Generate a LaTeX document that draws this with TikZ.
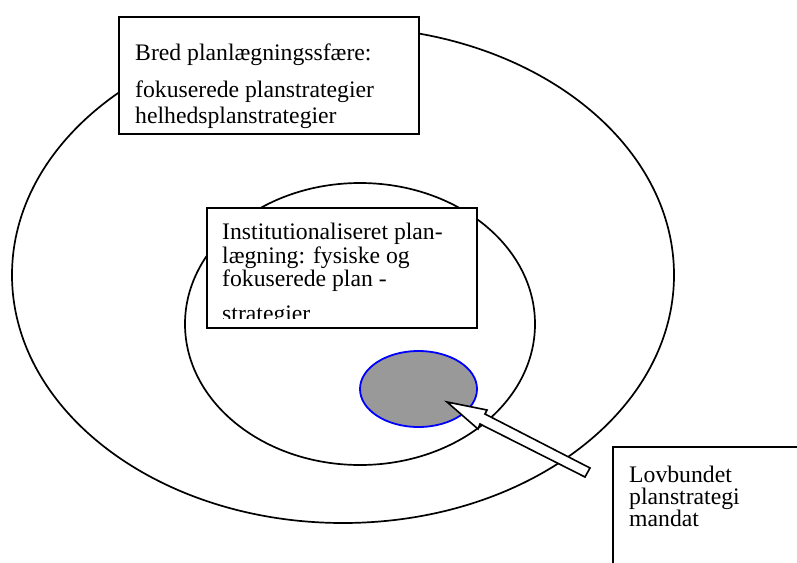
\documentclass[tikz,border=0pt]{standalone}
\usepackage{fontspec}
\setmainfont{Liberation Serif}
\usetikzlibrary{shapes.geometric}
\definecolor{coregray}{RGB}{153,153,153}
\begin{document}
\begin{tikzpicture}[x=1pt,y=-1pt,
  ring/.style={draw=black, line width=1.7pt, ellipse, inner sep=0pt},
  box/.style={draw=black, fill=white, line width=1.7pt, rectangle, inner sep=0pt, anchor=north west},
  txt/.style={anchor=base west, inner sep=0pt, font=\fontsize{23.7}{23.7}\selectfont},
  core/.style={draw=blue, fill=coregray, line width=1.8pt, ellipse, inner sep=0pt},
  blockarrow/.style={draw=black, fill=white, line width=1.6pt, line join=miter}]
\useasboundingbox (0,0) rectangle (797,562);
\clip (0,0) rectangle (797,562);
\fill[white] (0,0) rectangle (797,562);
% outer sphere
\node[ring, minimum width=662pt, minimum height=496pt] (outer) at (343,275) {};
% box 1
\node[box, minimum width=300pt, minimum height=117pt] (b1) at (118,16) {};
\node[txt] (t1a) at (135,60) {Bred planlægningssfære:};
\node[txt] (t1b) at (135,97.5) {fokuserede planstrategier};
\node[txt] (t1c) at (135,123) {helhedsplanstrategier};
% inner sphere
\node[ring, minimum width=350pt, minimum height=282pt] (inner) at (360,324) {};
% box 2 (text clipped inside the box)
\node[box, minimum width=270pt, minimum height=120pt] (b2) at (206,207) {};
\begin{scope}
\clip (b2.north west) rectangle (476,318);
\node[txt] (t2a) at (222,239.5) {Institutionaliseret plan-};
\node[txt] (t2b) at (222,263) {lægning: fysiske og};
\node[txt] (t2c) at (222,286.7) {fokuserede plan -};
\node[txt] (t2d) at (222,321) {strategier};
\end{scope}
% core
\node[core, minimum width=117pt, minimum height=76pt] (core) at (418.5,389) {};
% block arrow
\coordinate (atip) at (447,402);
\coordinate (abarbA) at (487,410);
\coordinate (ajoinA) at (485,414);
\coordinate (atailA) at (590,468);
\coordinate (atailB) at (585,477);
\coordinate (ajoinB) at (480,424);
\coordinate (abarbB) at (478,429);
\draw[blockarrow] (atip) -- (abarbA) -- (ajoinA) -- (atailA) -- (atailB) -- (ajoinB) -- (abarbB) -- cycle;
% box 3
\node[box, minimum width=200pt, minimum height=130pt] (b3) at (612,446) {};
\node[txt] (t3a) at (629,482) {Lovbundet};
\node[txt] (t3b) at (629,504) {planstrategi};
\node[txt] (t3c) at (629,526) {mandat};
\end{tikzpicture}
\end{document}
